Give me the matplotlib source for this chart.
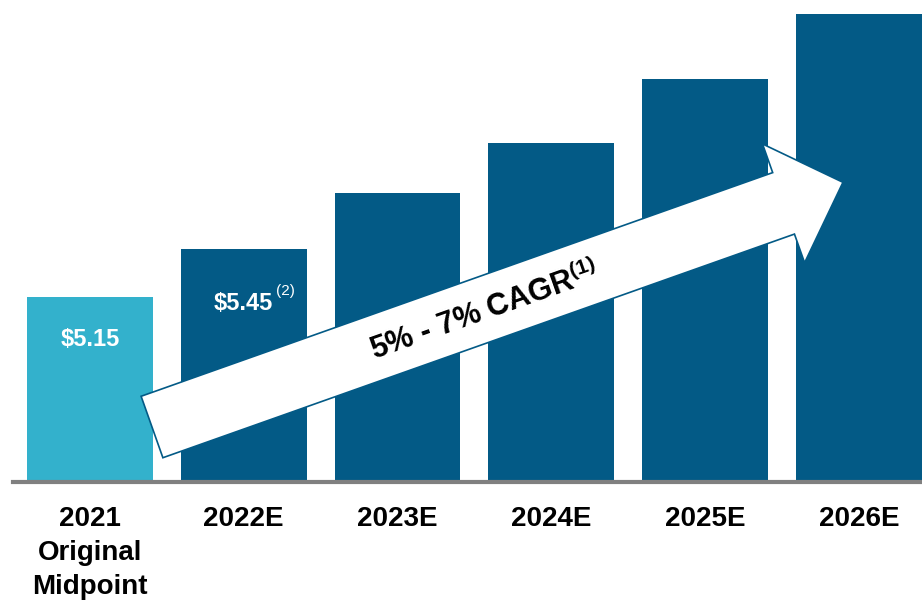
"""EPS growth bar chart with CAGR arrow."""
import matplotlib

matplotlib.use("Agg")
import matplotlib.pyplot as plt
import matplotlib.transforms as transforms
from matplotlib.patches import Polygon
import numpy

CATEGORIES = ["2021\nOriginal\nMidpoint", "2022E", "2023E", "2024E", "2025E", "2026E"]
VALUES = [5.15, 5.45, 5.80, 6.11, 6.51, 6.91]
LABELS = ["$5.15", "$5.45", "", "", "", ""]
FOOTNOTES = ["", "(2)", "", "", "", ""]
CAGR_TEXT = "5% - 7% CAGR"
CAGR_NOTE = "(1)"

DARK = "#035a86"
LIGHT = "#33b1cc"
FONT = ["Liberation Sans", "DejaVu Sans"]

W, H = 922, 601

if __name__ == "__main__":
    plt.rcParams["font.family"] = FONT
    plt.rcParams["mathtext.fontset"] = "custom"
    plt.rcParams["mathtext.rm"] = "Liberation Sans"
    plt.rcParams["mathtext.bf"] = "Liberation Sans:bold"

    fig = plt.figure(figsize=(W / 100, H / 100), dpi=100)
    ax = fig.add_axes([13 / W, 119 / H, 909 / W, 482 / H])

    x = numpy.arange(len(VALUES))
    colors = [LIGHT] + [DARK] * (len(VALUES) - 1)
    ax.bar(x, VALUES, width=0.818, color=colors, zorder=2)
    ax.set_xlim(-0.5, 5.41)
    ax.set_ylim(4.0, 7.0)

    for s in ["top", "right", "left"]:
        ax.spines[s].set_visible(False)
    ax.spines["bottom"].set_color("#808080")
    ax.spines["bottom"].set_linewidth(3)
    ax.spines["bottom"].set_zorder(3)
    ax.set_yticks([])
    ax.set_xticks(x)
    ax.set_xticklabels(CATEGORIES, fontsize=20, fontweight="bold", linespacing=1.42)
    ax.tick_params(axis="x", length=0, pad=17)

    # value labels inside the bars
    offsets = [-42, -54, 0, 0, 0, 0]
    for i, (lab, note) in enumerate(zip(LABELS, FOOTNOTES)):
        if not lab:
            continue
        ax.annotate(lab, xy=(i, VALUES[i]), xytext=(0, offsets[i]),
                    textcoords="offset pixels", ha="center", va="center",
                    color="white", fontsize=17, fontweight="bold", zorder=5)
        if note:
            ax.annotate(note, xy=(i, VALUES[i]), xytext=(32, offsets[i] + 12),
                        textcoords="offset pixels", ha="left", va="center",
                        color="white", fontsize=11, zorder=5)

    # big arrow, drawn in image pixel coordinates (origin top-left)
    px = transforms.Affine2D().scale(1 / W, -1 / H).translate(0, 1) + fig.transFigure
    tail = numpy.array([152.0, 427.0])
    ang = numpy.deg2rad(19.5)
    u = numpy.array([numpy.cos(ang), -numpy.sin(ang)])
    n = numpy.array([numpy.sin(ang), numpy.cos(ang)])
    shaft, head_base, head_half, tip = 32.6, 670.0, 63.0, 733.0
    pts = [
        tail + shaft * n,
        tail - shaft * n,
        tail + head_base * u - shaft * n,
        tail + head_base * u - head_half * n,
        tail + tip * u,
        tail + head_base * u + head_half * n,
        tail + head_base * u + shaft * n,
    ]
    arrow = Polygon(pts, closed=True, facecolor="white", edgecolor=DARK,
                    linewidth=1.2, transform=px, zorder=4)
    fig.patches.append(arrow)

    c = tail + 352 * u + 2 * n
    fig.text(c[0] / W, 1 - c[1] / H, CAGR_TEXT + r"$^{\mathbf{" + CAGR_NOTE + "}}$",
             rotation=19.5, rotation_mode="anchor", ha="center", va="center",
             fontsize=22, fontweight="bold", color="black", zorder=6)

    plt.savefig("out.png", dpi=100)
